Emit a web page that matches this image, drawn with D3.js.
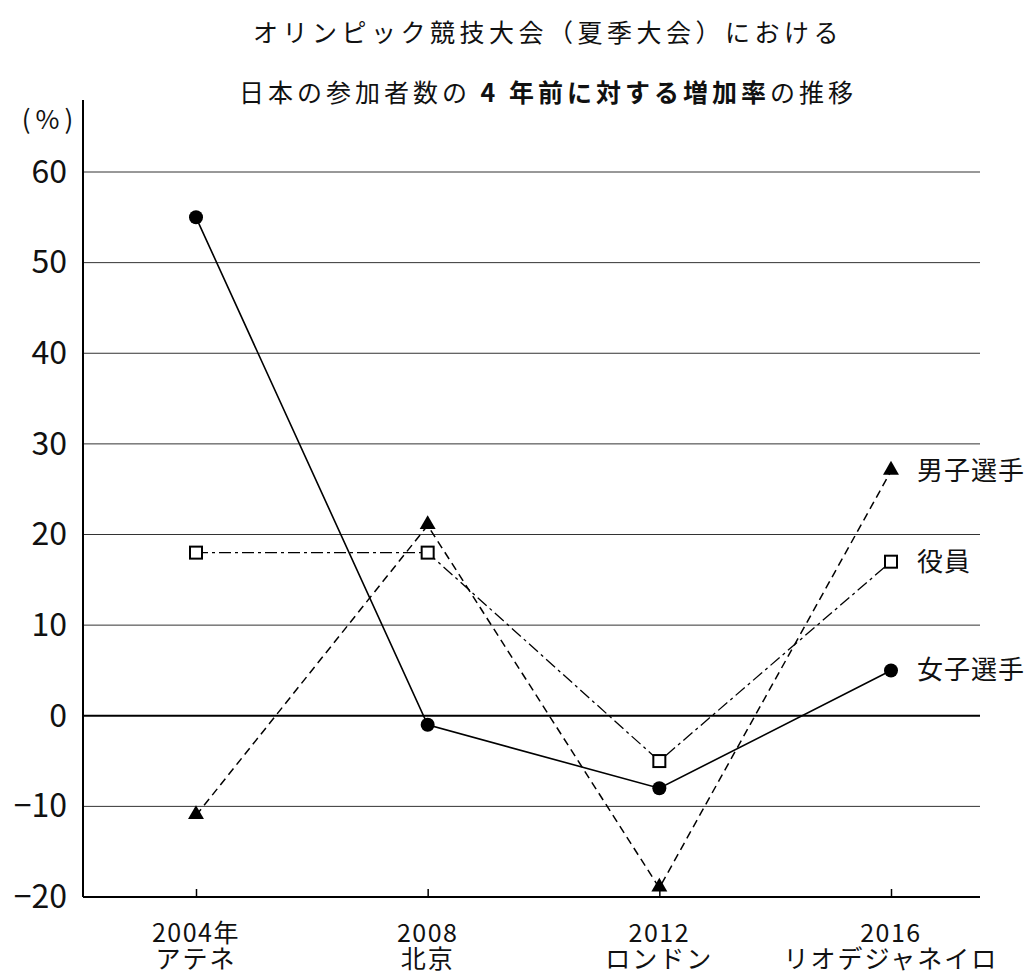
<!DOCTYPE html>
<html><head><meta charset="utf-8">
<script src="https://cdn.jsdelivr.net/npm/d3@7"></script>
<style>
body{margin:0;background:#fff;}
text{font-family:"Noto Sans CJK JP","Noto Sans",sans-serif;fill:#111;}
</style></head>
<body>
<svg id="chart" width="1029" height="974"></svg>
<script>
const years = ["2004", "2008", "2012", "2016"];
const yearLabels = ["2004年", "2008", "2012", "2016"];
const cityLabels = ["アテネ", "北京", "ロンドン", "リオデジャネイロ"];
const yTicks = [-20, -10, 0, 10, 20, 30, 40, 50, 60];
const womenValues = [55, -1, -8, 5];
const menValues = [-11, 21, -19, 27];
const officialValues = [18, 18, -5, 17];
const seriesNames = ["女子選手", "男子選手", "役員"];

const svg = d3.select("#chart");
const left = 83, right = 980, bottom = 897;
const x = d3.scalePoint().domain(years).range([196, 891]);
const y = d3.scaleLinear().domain([-20, 60]).range([897, 172]);

// title
svg.append("text").attr("x", 548).attr("y", 42).attr("text-anchor", "middle")
  .attr("font-size", 25).attr("letter-spacing", 4.5).text("オリンピック競技大会（夏季大会）における");
const t2 = svg.append("text").attr("x", 548).attr("y", 102).attr("text-anchor", "middle")
  .attr("font-size", 25).attr("letter-spacing", 4);
t2.append("tspan").text("日本の参加者数の");
t2.append("tspan").attr("font-weight", "bold").text(" 4 年前に対する増加率");
t2.append("tspan").text("の推移");

// gridlines
svg.append("g").selectAll("line").data(yTicks.filter(d => d !== -20)).join("line")
  .attr("x1", left).attr("x2", right)
  .attr("y1", d => y(d)).attr("y2", d => y(d))
  .attr("stroke", d => d === 0 ? "#000" : "#333")
  .attr("stroke-width", d => d === 0 ? 2 : 1);

// y axis
const yAxis = d3.axisLeft(y).tickValues(yTicks).tickSize(0).tickPadding(16)
  .tickFormat(d => d < 0 ? "−" + Math.abs(d) : d);
const yg = svg.append("g").attr("transform", `translate(${left},0)`).call(yAxis);
yg.select(".domain").remove();
yg.selectAll("text").attr("font-size", 32).attr("font-family", "'Noto Sans','Noto Sans CJK JP',sans-serif").attr("fill", "#111");
svg.append("line").attr("x1", left).attr("x2", left).attr("y1", 100).attr("y2", bottom)
  .attr("stroke", "#000").attr("stroke-width", 2);
svg.append("text").attr("x", 50).attr("y", 129).attr("text-anchor", "middle")
  .attr("font-size", 26).attr("letter-spacing", 5).text("(%)");

// x axis
const xAxis = d3.axisBottom(x).tickSize(-8).tickFormat("");
const xg = svg.append("g").attr("transform", `translate(0,${bottom})`).call(xAxis);
xg.select(".domain").remove();
xg.selectAll("line").attr("stroke", "#000").attr("stroke-width", 1.5);
svg.append("line").attr("x1", left).attr("x2", right).attr("y1", bottom).attr("y2", bottom)
  .attr("stroke", "#000").attr("stroke-width", 2);
svg.append("g").selectAll("text").data(years).join("text")
  .attr("x", d => x(d)).attr("y", 942).attr("text-anchor", "middle").attr("font-size", 25)
  .attr("letter-spacing", 1.5).text((d, i) => yearLabels[i]);
svg.append("g").selectAll("text").data(years).join("text")
  .attr("x", d => x(d)).attr("y", 968).attr("text-anchor", "middle").attr("font-size", 25)
  .attr("letter-spacing", 2).text((d, i) => cityLabels[i]);

// lines
const line = d3.line().x((d, i) => x(years[i])).y(d => y(d));
svg.append("path").datum(officialValues).attr("d", line).attr("fill", "none")
  .attr("stroke", "#000").attr("stroke-width", 1.3).attr("stroke-dasharray", "12,4,3,4");
svg.append("path").datum(menValues).attr("d", line).attr("fill", "none")
  .attr("stroke", "#000").attr("stroke-width", 1.5).attr("stroke-dasharray", "8,5");
svg.append("path").datum(womenValues).attr("d", line).attr("fill", "none")
  .attr("stroke", "#000").attr("stroke-width", 1.6);

// markers
svg.append("g").selectAll("circle").data(womenValues).join("circle")
  .attr("cx", (d, i) => x(years[i])).attr("cy", d => y(d)).attr("r", 7).attr("fill", "#000");
const tri = d3.symbol().type(d3.symbolTriangle).size(110);
svg.append("g").selectAll("path").data(menValues).join("path")
  .attr("d", tri).attr("transform", (d, i) => `translate(${x(years[i])},${y(d) - 1})`).attr("fill", "#000");
svg.append("g").selectAll("rect").data(officialValues).join("rect")
  .attr("x", (d, i) => x(years[i]) - 6).attr("y", d => y(d) - 6)
  .attr("width", 12).attr("height", 12).attr("fill", "#fff").attr("stroke", "#000").attr("stroke-width", 2);

// end labels
const lastVals = [womenValues[3], menValues[3], officialValues[3]];
svg.append("g").selectAll("text").data(seriesNames).join("text")
  .attr("x", x(years[3]) + 26).attr("y", (d, i) => y(lastVals[i]) + 9)
  .attr("font-size", 26).attr("letter-spacing", 1).text(d => d);
</script>
</body></html>
